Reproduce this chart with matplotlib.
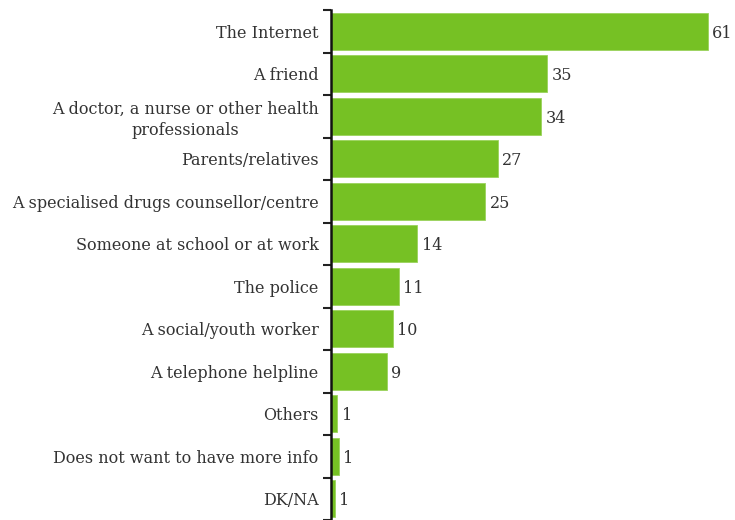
import matplotlib.pyplot as plt
import numpy as np

categories = ["The Internet", "A friend",
              "A doctor, a nurse or other health\nprofessionals",
              "Parents/relatives", "A specialised drugs counsellor/centre",
              "Someone at school or at work", "The police",
              "A social/youth worker", "A telephone helpline", "Others",
              "Does not want to have more info", "DK/NA"]
values = [61, 35, 34, 27, 25, 14, 11, 10, 9, 1.0, 1.3, 0.6]
labels = ["61", "35", "34", "27", "25", "14", "11", "10", "9", "1", "1", "1"]

plt.rcParams['font.family'] = ['DejaVu Serif']

fig = plt.figure(figsize=(7.35, 5.2), dpi=100)
ax = fig.add_axes([331 / 735, 0, 1 - 331 / 735, 1 - 10 / 520])

y = np.arange(len(categories))
ax.barh(y, values, height=0.88, color='#76c124', edgecolor='#9ad35c', linewidth=0.6)

for yi, v, lab in zip(y, values, labels):
    ax.text(v + 0.7, yi + 0.05, lab, va='center', ha='left', fontsize=11.5, color='#333333')

ax.set_xlim(0, 65.4)
ax.set_ylim(len(categories) - 0.5, -0.5)

ax.set_yticks(y)
ax.set_yticklabels(categories, fontsize=11.5, color='#333333', linespacing=1.25)
ax.tick_params(axis='y', which='major', length=0, pad=9)
ax.set_yticks(np.arange(-0.5, len(categories), 1), minor=True)
ax.tick_params(axis='y', which='minor', length=6, width=1.5, color='#222222')
for lab in ax.get_yticklabels():
    lab.set_multialignment('center')

ax.set_xticks([])
for s in ['top', 'right', 'bottom']:
    ax.spines[s].set_visible(False)
ax.spines['left'].set_linewidth(1.8)
ax.spines['left'].set_color('#111111')

fig.savefig('out.png', dpi=100)
